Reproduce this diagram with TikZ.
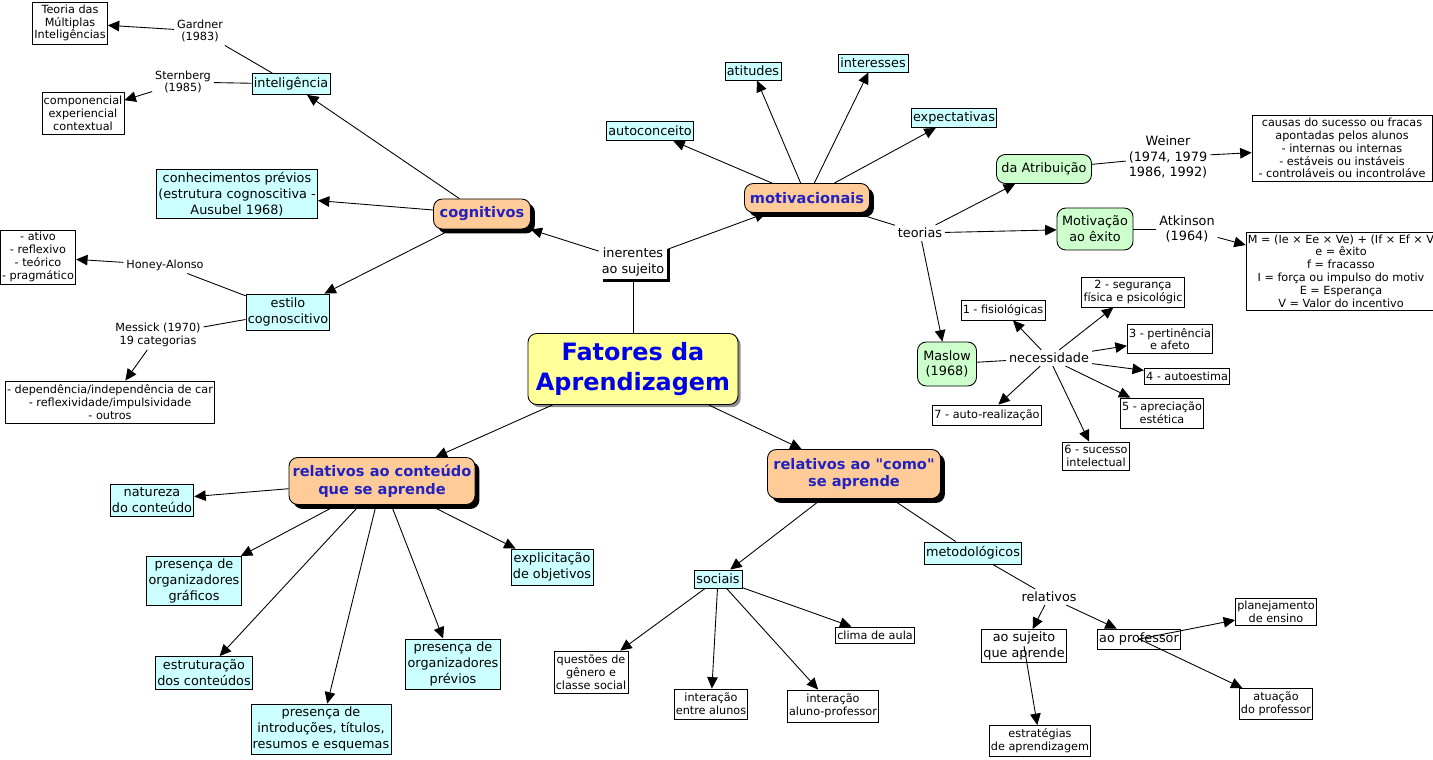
\documentclass[tikz,border=0pt]{standalone}
\usepackage{fontspec}
\setmainfont{DejaVu Sans}
\usepackage{tikz}
\usetikzlibrary{arrows.meta,shadows}

\definecolor{mapyellow}{RGB}{255,255,153}
\definecolor{maporange}{RGB}{255,204,153}
\definecolor{mapcyan}{RGB}{204,255,255}
\definecolor{mapgreen}{RGB}{204,255,204}
\definecolor{mainblue}{RGB}{0,0,230}
\definecolor{topicblue}{RGB}{34,34,190}

\begin{document}
\begin{tikzpicture}[
  x=0.02cm, y=-0.02cm, >={Triangle[length=6.5pt,width=6pt]}, line width=0.5pt,
  boxsize/.style 2 args={minimum width=#1*0.02cm, minimum height=#2*0.02cm},
  mainnode/.style={draw, rounded corners=5pt, fill=mapyellow, text=mainblue, align=center, inner sep=1pt,
    font=\fontsize{13.6}{17}\selectfont\bfseries,
    drop shadow={shadow xshift=1.5pt, shadow yshift=-1.5pt, fill=black!45, opacity=1}},
  topic/.style={draw, rounded corners=5pt, fill=maporange, text=topicblue, align=center, inner sep=1pt,
    font=\fontsize{8.3}{10}\selectfont\bfseries,
    drop shadow={shadow xshift=2.5pt, shadow yshift=-2.5pt, fill=black, opacity=1}},
  concept/.style={draw, fill=mapcyan, align=center, inner sep=1pt, font=\fontsize{7.3}{9}\selectfont},
  theory/.style={draw, rounded corners=5pt, fill=mapgreen, align=center, inner sep=1pt, font=\fontsize{7.3}{9}\selectfont},
  detail/.style={draw, fill=white, align=center, inner sep=1pt, font=\fontsize{6.4}{7.3}\selectfont},
  whitebox/.style={draw, fill=white, align=center, inner sep=1pt, font=\fontsize{7.3}{9}\selectfont},
  phrase/.style={fill=white, align=center, inner sep=1.5pt, font=\fontsize{7.3}{9}\selectfont},
  smallphrase/.style={phrase, font=\fontsize{6.4}{7.3}\selectfont},
  arr/.style={->},
]
\useasboundingbox (0,0) rectangle (1433,760);

% ---------- centre ----------
\node[mainnode, boxsize={210}{71}] (fatores) at (633,369) {Fatores da\\Aprendizagem};
\node[phrase, drop shadow={shadow xshift=2pt, shadow yshift=-2pt, fill=black, opacity=1}] (inerentes) at (633,262) {inerentes\\ao sujeito};
\node[topic, boxsize={97}{30}] (cognitivos) at (482,214) {cognitivos};
\node[topic, boxsize={125}{29}] (motivac) at (807,198) {motivacionais};
\node[topic, boxsize={186}{47}] (conteudo) at (382,481) {relativos ao conteúdo\\que se aprende};
\node[topic, boxsize={173}{49}] (como) at (854,474) {relativos ao \textquotedbl como\textquotedbl\\se aprende};

% ---------- cognitivos ----------
\node[concept, boxsize={77}{21}] (intelig) at (291,84) {inteligência};
\node[concept, boxsize={156}{49}] (conhec) at (237,194) {conhecimentos prévios\\(estrutura cognoscitiva -\\Ausubel 1968)};
\node[concept, boxsize={82}{36}] (estilo) at (288,312) {estilo\\cognoscitivo};
\node[smallphrase] (gardner) at (200,31) {Gardner\\(1983)};
\node[smallphrase] (sternberg) at (183,82) {Sternberg\\(1985)};
\node[detail, boxsize={71}{42}] (multiplas) at (70,23) {Teoria das\\Múltiplas\\Inteligências};
\node[detail, boxsize={76}{42}] (componenc) at (83,113) {componencial\\experiencial\\contextual};
\node[smallphrase] (honey) at (165,265) {Honey-Alonso};
\node[smallphrase] (messick) at (158,335) {Messick (1970)\\19 categorias};
\node[detail, boxsize={72}{54}] (ativo) at (38,257) {- ativo\\- reflexivo\\- teórico\\- pragmático};
\node[detail, boxsize={208}{42}] (dependencia) at (110,402) {- dependência/independência de car\\- reflexividade/impulsividade\\- outros};

% ---------- motivacionais ----------
\node[concept, boxsize={84}{19}] (autoconc) at (650,131) {autoconceito};
\node[concept, boxsize={56}{18}] (atitudes) at (753,71) {atitudes};
\node[concept, boxsize={70}{18}] (interesses) at (873,63) {interesses};
\node[concept, boxsize={84}{19}] (expectat) at (954,118) {expectativas};
\node[phrase] (teorias) at (920,233) {teorias};
\node[theory, boxsize={95}{29}] (atribuicao) at (1044,169) {da Atribuição};
\node[theory, boxsize={76}{42}] (exito) at (1095,229) {Motivação\\ao êxito};
\node[theory, boxsize={59}{44}] (maslow) at (947,364) {Maslow\\(1968)};
\node[phrase] (weiner) at (1168,157) {Weiner\\(1974, 1979\\1986, 1992)};
\node[phrase] (atkinson) at (1187,229) {Atkinson\\(1964)};
\node[detail, boxsize={180}{66}] (causas) at (1342,148) {causas do sucesso ou fracas\\apontadas pelos alunos\\- internas ou internas\\- estáveis ou instáveis\\- controláveis ou incontroláve};
\node[detail, boxsize={182}{78}] (formula) at (1341,271) {M = (Ie × Ee × Ve) + (If × Ef × V\\e = êxito\\f = fracasso\\I = força ou impulso do motiv\\E = Esperança\\V = Valor do incentivo};
\node[phrase] (necess) at (1049,358) {necessidade};
\node[detail, boxsize={82}{20}] (nec1) at (1003,310) {1 - fisiológicas};
\node[detail, boxsize={100}{30}] (nec2) at (1133,292) {2 - segurança\\física e psicológic};
\node[detail, boxsize={81}{29}] (nec3) at (1170,339) {3 - pertinência\\e afeto};
\node[detail, boxsize={82}{16}] (nec4) at (1187,376) {4 - autoestima};
\node[detail, boxsize={80}{30}] (nec5) at (1162,413) {5 - apreciação\\estética};
\node[detail, boxsize={65}{28}] (nec6) at (1096,456) {6 - sucesso\\intelectual};
\node[detail, boxsize={104}{20}] (nec7) at (987,415) {7 - auto-realização};

% ---------- relativos ao conteudo ----------
\node[concept, boxsize={83}{32}] (natureza) at (152,500) {natureza\\do conteúdo};
\node[concept, boxsize={93}{49}] (graficos) at (194,581) {presença de\\organizadores\\gráficos};
\node[concept, boxsize={95}{33}] (estrutur) at (204,673) {estruturação\\dos conteúdos};
\node[concept, boxsize={136}{50}] (introduc) at (321,729) {presença de\\introduções, títulos,\\resumos e esquemas};
\node[concept, boxsize={93}{50}] (previos) at (453,664) {presença de\\organizadores\\prévios};
\node[concept, boxsize={82}{36}] (objetivos) at (552,567) {explicitação\\de objetivos};

% ---------- relativos ao como ----------
\node[concept, boxsize={48}{18}] (sociais) at (718,579) {sociais};
\node[concept, boxsize={95}{22}] (metodol) at (973,553) {metodológicos};
\node[detail, boxsize={70}{42}] (genero) at (591,672) {questões de\\gênero e\\classe social};
\node[detail, boxsize={71}{30}] (entrealunos) at (711,704) {interação\\entre alunos};
\node[detail, boxsize={87}{32}] (alunoprof) at (833,706) {interação\\aluno-professor};
\node[detail, boxsize={75}{16}] (clima) at (875,635) {clima de aula};
\node[phrase] (relativos) at (1049,597) {relativos};
\node[whitebox, boxsize={84}{33}] (sujeito) at (1024,646) {ao sujeito\\que aprende};
\node[whitebox, boxsize={83}{20}] (professor) at (1139,639) {ao professor};
\node[detail, boxsize={95}{31}] (estrateg) at (1040,741) {estratégias\\de aprendizagem};
\node[detail, boxsize={76}{27}] (planej) at (1276,612) {planejamento\\de ensino};
\node[detail, boxsize={71}{31}] (atuacao) at (1276,704) {atuação\\do professor};

% ---------- connectors ----------
\draw (fatores) -- (inerentes);
\draw[arr] (inerentes) -- (cognitivos);
\draw[arr] (inerentes) -- (motivac);
\draw[arr] (fatores) -- (conteudo);
\draw[arr] (fatores) -- (como);

\draw[arr] (cognitivos) -- (intelig);
\draw[arr] (cognitivos) -- (conhec);
\draw[arr] (cognitivos) -- (estilo);
\draw (intelig) -- (gardner);
\draw[arr] (gardner) -- (multiplas);
\draw (intelig) -- (sternberg);
\draw[arr] (sternberg) -- (componenc);
\draw (estilo) -- (honey);
\draw[arr] (honey) -- (ativo);
\draw (estilo) -- (messick);
\draw[arr] (messick) -- (dependencia);

\draw[arr] (motivac) -- (autoconc);
\draw[arr] (motivac) -- (atitudes);
\draw[arr] (motivac) -- (interesses);
\draw[arr] (motivac) -- (expectat);
\draw (motivac) -- (teorias);
\draw[arr] (teorias) -- (atribuicao);
\draw[arr] (teorias) -- (exito);
\draw[arr] (teorias) -- (maslow);
\draw (atribuicao) -- (weiner);
\draw[arr] (weiner) -- (causas);
\draw (exito) -- (atkinson);
\draw[arr] (atkinson) -- (formula);
\draw (maslow) -- (necess);
\foreach \n in {nec1,nec2,nec3,nec4,nec5,nec6,nec7}
  \draw[arr] (necess) -- (\n);

\foreach \n in {natureza,graficos,estrutur,introduc,previos,objetivos}
  \draw[arr] (conteudo) -- (\n);

\draw[arr] (como) -- (sociais);
\draw (como) -- (metodol);
\foreach \n in {genero,entrealunos,alunoprof,clima}
  \draw[arr] (sociais) -- (\n);
\draw (metodol) -- (relativos);
\draw[arr] (relativos) -- (sujeito);
\draw[arr] (relativos) -- (professor);
\draw[arr] (sujeito.center) -- (estrateg);
\draw[arr] (professor.center) -- (planej);
\draw[arr] (professor.center) -- (atuacao);
\end{tikzpicture}
\end{document}
